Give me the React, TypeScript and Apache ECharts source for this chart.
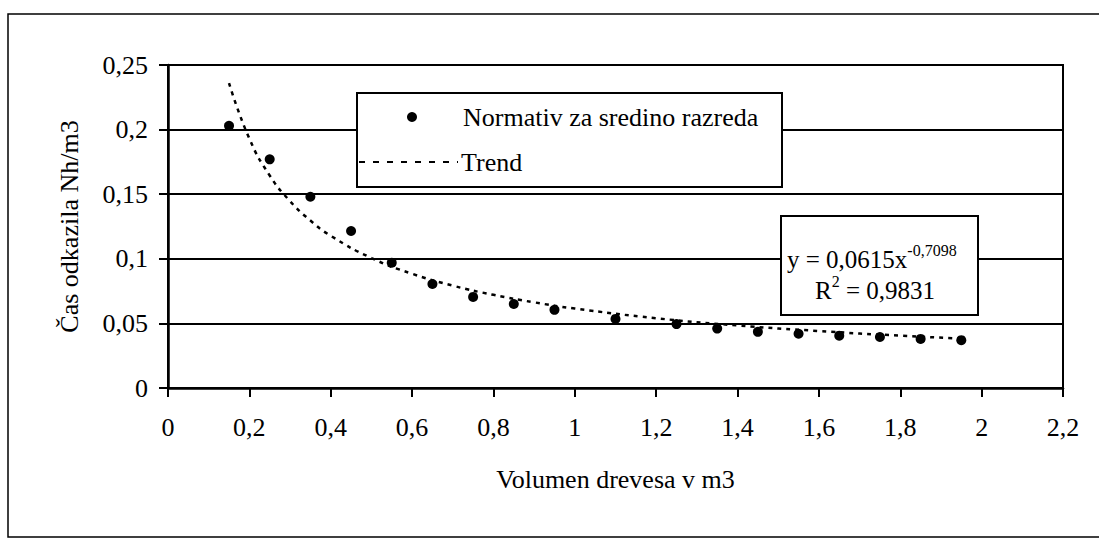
import React, { useEffect, useRef } from "react";
import * as echarts from "echarts";

const xPoints = [0.15, 0.25, 0.35, 0.45, 0.55, 0.65, 0.75, 0.85, 0.95, 1.1, 1.25, 1.35, 1.45, 1.55, 1.65, 1.75, 1.85, 1.95];
const yPoints = [0.203, 0.177, 0.148, 0.1215, 0.097, 0.0805, 0.0705, 0.065, 0.0605, 0.0535, 0.0495, 0.046, 0.0435, 0.042, 0.0405, 0.0395, 0.038, 0.037];

const xTrend = [0.15, 0.2, 0.25, 0.3, 0.35, 0.4, 0.5, 0.6, 0.7, 0.8, 0.9, 1.0, 1.2, 1.4, 1.6, 1.8, 1.95];
const yTrend = [0.236, 0.193, 0.1645, 0.1446, 0.1296, 0.1178, 0.1006, 0.0884, 0.0792, 0.0721, 0.0663, 0.0615, 0.054, 0.0484, 0.0441, 0.0405, 0.0383];

const seriesPointsName = "Normativ za sredino razreda";
const seriesTrendName = "Trend";
const xTitle = "Volumen drevesa v m3";
const yTitle = "Čas odkazila Nh/m3";
const eqLine1 = "y = 0,0615x";
const eqExp = "-0,7098";
const r2Value = " = 0,9831";

const FONT = "'Liberation Serif', 'Times New Roman', serif";

const fmt = (v: number) => String(+v.toFixed(2)).replace(".", ",");

export default function App() {
  const ref = useRef<HTMLDivElement>(null);
  useEffect(() => {
    document.body.style.margin = "0";
    const chart = echarts.init(ref.current!, null, { renderer: "svg" });
    const option: any = {
      animation: false,
      backgroundColor: "#fff",
      textStyle: { fontFamily: FONT, color: "#000" },
      grid: {
        left: 168,
        top: 65,
        right: 36,
        bottom: 151,
        show: true,
        borderColor: "#000",
        borderWidth: 2,
        backgroundColor: "transparent",
      },
      xAxis: {
        type: "value",
        min: 0,
        max: 2.2,
        interval: 0.2,
        name: xTitle,
        nameLocation: "middle",
        nameGap: 78,
        nameTextStyle: { fontFamily: FONT, fontSize: 26, color: "#000" },
        axisLine: { show: true, onZero: false, lineStyle: { color: "#000", width: 2.5 } },
        axisTick: { show: true, length: 9, inside: false, lineStyle: { color: "#000", width: 2 } },
        axisLabel: { fontFamily: FONT, fontSize: 26, color: "#000", margin: 26, formatter: fmt },
        splitLine: { show: false },
      },
      yAxis: {
        type: "value",
        min: 0,
        max: 0.25,
        interval: 0.05,
        name: yTitle,
        nameLocation: "middle",
        nameGap: 86,
        nameRotate: 90,
        nameTextStyle: { fontFamily: FONT, fontSize: 26, color: "#000" },
        axisLine: { show: true, lineStyle: { color: "#000", width: 2.5 } },
        axisTick: { show: true, length: 9, inside: false, lineStyle: { color: "#000", width: 2 } },
        axisLabel: { fontFamily: FONT, fontSize: 26, color: "#000", margin: 20, formatter: fmt },
        splitLine: { show: true, lineStyle: { color: "#000", width: 2 } },
      },
      series: [
        {
          name: seriesTrendName,
          type: "line",
          smooth: true,
          showSymbol: false,
          symbol: "none",
          data: xTrend.map((x, i) => [x, yTrend[i]]),
          lineStyle: { color: "#000", width: 2.5, type: [4, 5] },
          z: 3,
        },
        {
          name: seriesPointsName,
          type: "scatter",
          symbol: "circle",
          symbolSize: 10,
          data: xPoints.map((x, i) => [x, yPoints[i]]),
          itemStyle: { color: "#000", opacity: 1 },
          z: 4,
        },
      ],
      graphic: [
        {
          type: "rect",
          z: 0,
          shape: { x: 8, y: 14, width: 1100, height: 523 },
          style: { fill: "none", stroke: "#000", lineWidth: 1.5 },
          silent: true,
        },
        {
          type: "group",
          z: 100,
          children: [
            {
              type: "rect",
              z: 100,
              shape: { x: 357, y: 93, width: 425, height: 94 },
              style: { fill: "#fff", stroke: "#000", lineWidth: 2 },
            },
            {
              type: "circle",
              z: 101,
              shape: { cx: 412, cy: 117, r: 5 },
              style: { fill: "#000" },
            },
            {
              type: "line",
              z: 101,
              shape: { x1: 359, y1: 162, x2: 458, y2: 162 },
              style: { stroke: "#000", lineWidth: 2, lineDash: [6, 8] },
            },
            {
              type: "text",
              z: 101,
              x: 463,
              y: 117,
              style: { text: seriesPointsName, font: `26px ${FONT}`, fill: "#000", verticalAlign: "middle", align: "left" },
            },
            {
              type: "text",
              z: 101,
              x: 461,
              y: 162,
              style: { text: seriesTrendName, font: `26px ${FONT}`, fill: "#000", verticalAlign: "middle", align: "left" },
            },
            {
              type: "rect",
              z: 100,
              shape: { x: 781, y: 216, width: 197, height: 99 },
              style: { fill: "#fff", stroke: "#000", lineWidth: 2 },
            },
            {
              type: "text",
              z: 101,
              x: 787,
              y: 257,
              style: {
                text: `{m|${eqLine1}}{s|${eqExp}}`,
                verticalAlign: "middle",
                align: "left",
                rich: {
                  m: { fontFamily: FONT, fontSize: 25, fill: "#000", color: "#000", lineHeight: 30, verticalAlign: "bottom" },
                  s: { fontFamily: FONT, fontSize: 16, fill: "#000", color: "#000", lineHeight: 30, verticalAlign: "top" },
                },
              },
            },
            {
              type: "text",
              z: 101,
              x: 815,
              y: 288,
              style: {
                text: `{m|R}{s|2}{m|${r2Value}}`,
                verticalAlign: "middle",
                align: "left",
                rich: {
                  m: { fontFamily: FONT, fontSize: 25, fill: "#000", color: "#000", lineHeight: 30, verticalAlign: "bottom" },
                  s: { fontFamily: FONT, fontSize: 16, fill: "#000", color: "#000", lineHeight: 30, verticalAlign: "top" },
                },
              },
            },
          ],
        },
      ],
    };
    chart.setOption(option);
    return () => chart.dispose();
  }, []);
  return <div ref={ref} style={{ width: 1099, height: 539 }} />;
}
